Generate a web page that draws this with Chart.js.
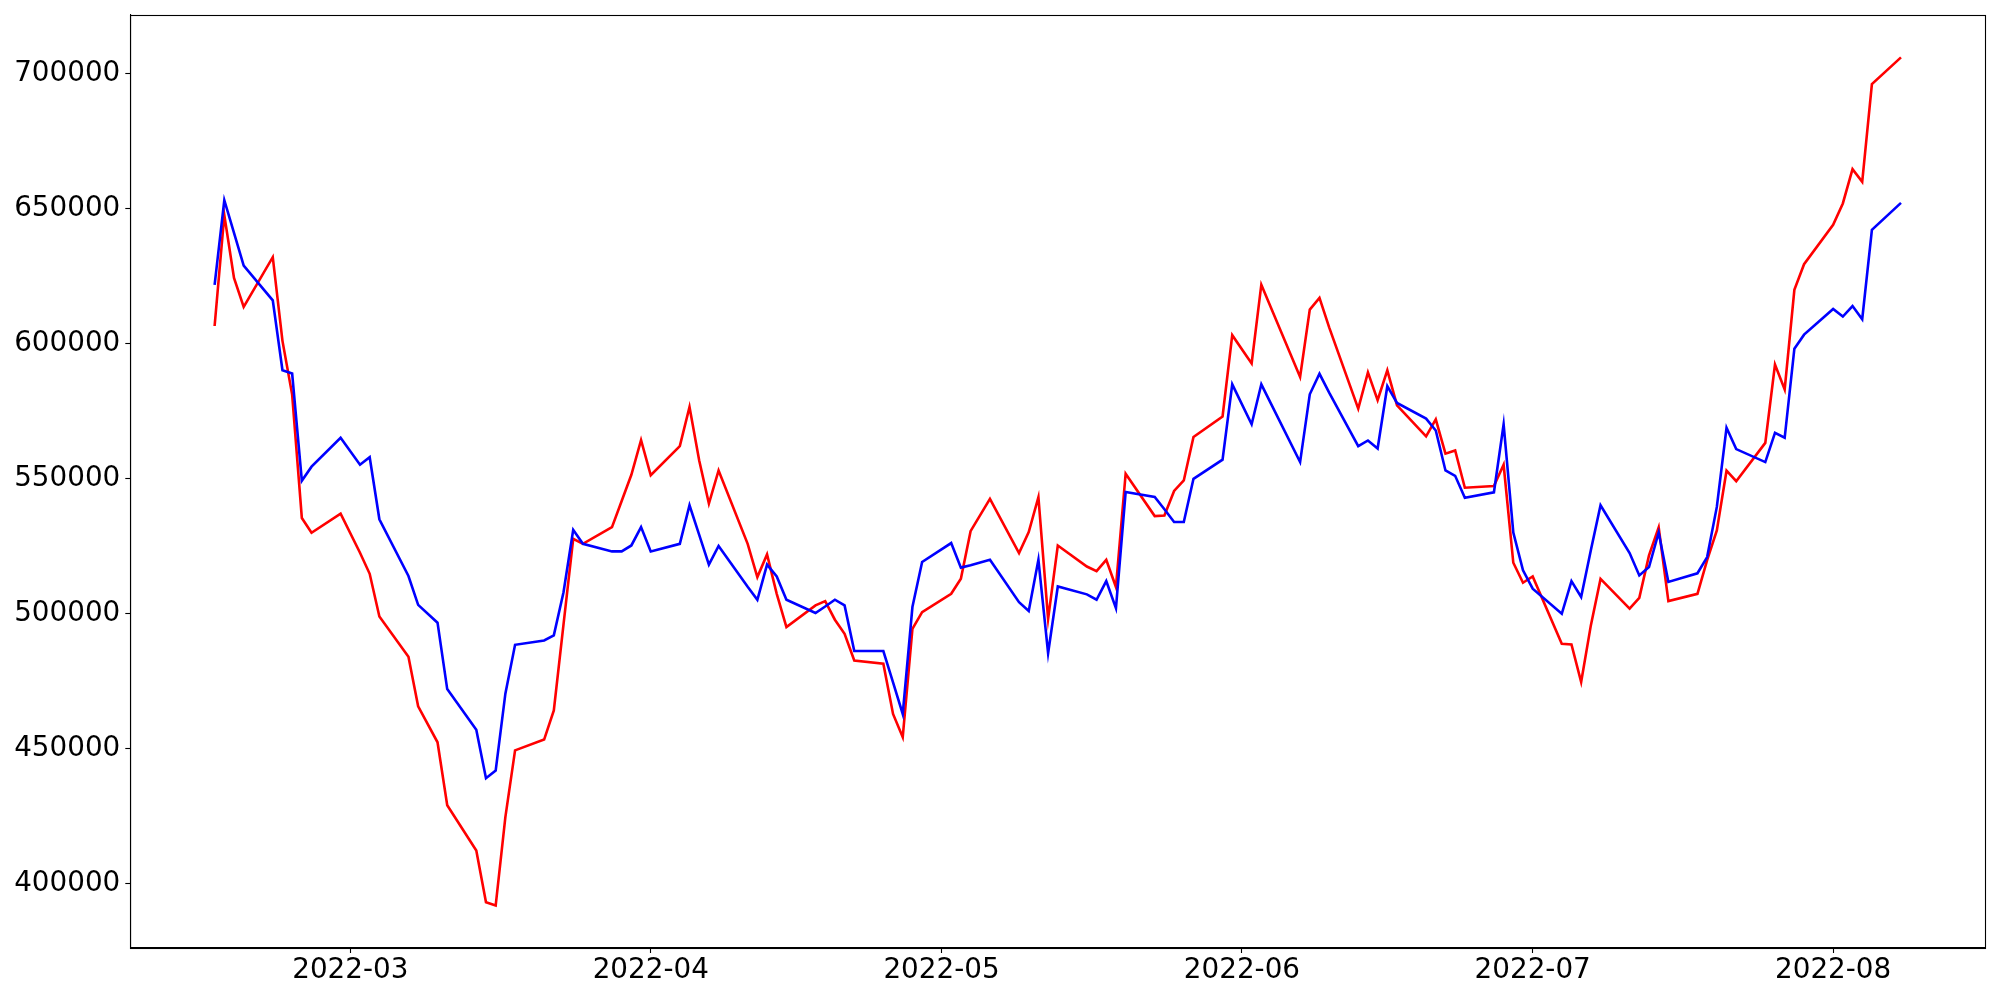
<!DOCTYPE html>
<html>
<head>
<meta charset="utf-8">
<script src="https://cdn.jsdelivr.net/npm/chart.js@4.4.0/dist/chart.umd.min.js"></script>
<style>
html,body{margin:0;padding:0;background:#fff;}
#wrap{width:2000px;height:1000px;}
</style>
</head>
<body>
<div id="wrap"><canvas id="c" width="2000" height="1000"></canvas></div>
<script>
const dates = [
"2022-02-15","2022-02-16","2022-02-17","2022-02-18","2022-02-21","2022-02-22","2022-02-23","2022-02-24","2022-02-25","2022-02-28",
"2022-03-02","2022-03-03","2022-03-04","2022-03-07","2022-03-08","2022-03-10","2022-03-11","2022-03-14","2022-03-15","2022-03-16","2022-03-17","2022-03-18","2022-03-21","2022-03-22","2022-03-23","2022-03-24","2022-03-25","2022-03-28","2022-03-29","2022-03-30","2022-03-31",
"2022-04-01","2022-04-04","2022-04-05","2022-04-06","2022-04-07","2022-04-08","2022-04-11","2022-04-12","2022-04-13","2022-04-14","2022-04-15","2022-04-18","2022-04-19","2022-04-20","2022-04-21","2022-04-22","2022-04-25","2022-04-26","2022-04-27","2022-04-28","2022-04-29",
"2022-05-02","2022-05-03","2022-05-04","2022-05-06","2022-05-09","2022-05-10","2022-05-11","2022-05-12","2022-05-13","2022-05-16","2022-05-17","2022-05-18","2022-05-19","2022-05-20","2022-05-23","2022-05-24","2022-05-25","2022-05-26","2022-05-27","2022-05-30","2022-05-31",
"2022-06-02","2022-06-03","2022-06-07","2022-06-08","2022-06-09","2022-06-10","2022-06-13","2022-06-14","2022-06-15","2022-06-16","2022-06-17","2022-06-20","2022-06-21","2022-06-22","2022-06-23","2022-06-24","2022-06-27","2022-06-28","2022-06-29","2022-06-30",
"2022-07-01","2022-07-04","2022-07-05","2022-07-06","2022-07-07","2022-07-08","2022-07-11","2022-07-12","2022-07-13","2022-07-14","2022-07-15","2022-07-18","2022-07-19","2022-07-20","2022-07-21","2022-07-22","2022-07-25","2022-07-26","2022-07-27","2022-07-28","2022-07-29",
"2022-08-01","2022-08-02","2022-08-03","2022-08-04","2022-08-05","2022-08-08"
];

const redValues = [
606500,647600,624300,613600,632000,601000,581100,535400,529900,537000,
522500,514700,498900,484000,465600,452300,429000,412200,393000,391800,424600,449300,453300,464100,496000,527700,525800,532000,541700,551400,564200,
551200,562000,576500,556700,540700,553000,525800,513500,521900,507300,495000,503000,504600,497700,492500,482600,481400,462800,454200,494300,500500,
507300,512900,530500,542500,522400,530200,543100,498000,525200,517400,515700,519900,509800,551800,536100,536300,545400,549300,565400,573000,603100,
592600,621800,587600,612600,616900,606000,575900,589300,579000,590100,577100,565600,571900,559200,560400,546600,547200,555100,518800,511400,
513700,488800,488500,474600,495600,512800,501800,505800,521500,531900,504600,507300,519800,530800,552900,549000,563200,592200,583000,619900,629400,
644000,651900,664600,659900,696100,706000
];

const blueValues = [
621700,653100,641000,628900,616000,590100,588900,549200,554400,565100,
555100,557900,534900,513900,503200,496600,472000,456900,439000,441800,470300,488400,490000,491900,507900,531000,525800,523000,523000,525200,532000,
523000,525800,540100,529100,518100,525000,509900,505100,518100,513700,505100,500200,502600,505100,503000,486100,486100,474500,462800,502400,519100,
526100,517000,517900,519900,504200,500900,519900,485300,510000,507100,505100,512000,502000,545000,543200,538600,533900,533900,549900,557000,584900,
570100,584900,556100,581200,588800,581800,562000,564100,561100,584200,578000,572200,567800,553000,551000,542900,544900,570100,530000,516000,
509200,499900,512000,506100,523400,540100,522400,514100,517200,530000,511700,514900,520900,539500,568800,560900,556100,566900,565100,598100,603300,
612800,610000,613900,609000,642100,652100
];

const xTickDates = ["2022-03-01","2022-04-01","2022-05-01","2022-06-01","2022-07-01","2022-08-01"];
const xTickLabels = ["2022-03","2022-04","2022-05","2022-06","2022-07","2022-08"];
const yTicks = [400000,450000,500000,550000,600000,650000,700000];

function dayNum(s){
  const p = s.split("-").map(Number);
  return Date.UTC(p[0], p[1]-1, p[2]) / 86400000;
}

const xs = dates.map(dayNum);
const xTickVals = xTickDates.map(dayNum);
const redData = xs.map((x,i)=>({x:x, y:redValues[i]}));
const blueData = xs.map((x,i)=>({x:x, y:blueValues[i]}));

const xFirst = xs[0], xLast = xs[xs.length-1];
const xMargin = 0.05*(xLast-xFirst);
const allY = redValues.concat(blueValues);
const yMin = Math.min(...allY), yMax = Math.max(...allY);
const yMargin = 0.05*(yMax-yMin);

const FONT = {family: "'DejaVu Sans', sans-serif", size: 27.8, lineHeight: 1};

const boxPlugin = {
  id: 'box',
  afterDraw(chart){
    const a = chart.chartArea, ctx = chart.ctx;
    ctx.save();
    ctx.strokeStyle = '#000';
    ctx.lineWidth = 1.1;
    ctx.strokeRect(Math.round(a.left)+0.5, Math.round(a.top)+0.5, Math.round(a.right-a.left), Math.round(a.bottom-a.top));
    ctx.restore();
  }
};

new Chart(document.getElementById('c'), {
  type: 'line',
  data: {
    datasets: [
      {label:'blue', data: blueData, borderColor:'#0000ff', backgroundColor:'#0000ff', borderWidth:2.6, pointRadius:0, tension:0, fill:false},
      {label:'red', data: redData, borderColor:'#ff0000', backgroundColor:'#ff0000', borderWidth:2.6, pointRadius:0, tension:0, fill:false}
    ]
  },
  options: {
    responsive: false,
    animation: false,
    events: [],
    layout: {padding: {top: 15, right: 14.7, left: 0, bottom: 0}},
    plugins: {legend: {display:false}, tooltip: {enabled:false}},
    scales: {
      x: {
        type: 'linear',
        min: xFirst - xMargin,
        max: xLast + xMargin,
        afterBuildTicks(scale){ scale.ticks = xTickVals.map(v=>({value:v})); },
        afterFit(scale){ scale.height = 52; scale.paddingLeft = 0; scale.paddingRight = 0; },
        grid: {drawOnChartArea:false, drawTicks:true, tickLength:5, tickWidth:1.1, tickColor:'#000'},
        border: {display:true, color:'#000', width:1.1},
        ticks: {
          autoSkip:false, maxRotation:0, minRotation:0, padding:4, color:'#000', font: FONT,
          callback(value){ const i = xTickVals.indexOf(value); return i>=0 ? xTickLabels[i] : ''; }
        }
      },
      y: {
        type: 'linear',
        min: yMin - yMargin,
        max: yMax + yMargin,
        afterBuildTicks(scale){ scale.ticks = yTicks.map(v=>({value:v})); },
        afterFit(scale){ scale.width = 130.3; scale.paddingTop = 0; scale.paddingBottom = 0; },
        grid: {drawOnChartArea:false, drawTicks:true, tickLength:5, tickWidth:1.1, tickColor:'#000'},
        border: {display:true, color:'#000', width:1.1},
        ticks: {
          padding:5, color:'#000', font: FONT,
          callback(value){ return String(value); }
        }
      }
    }
  },
  plugins: [boxPlugin]
});
</script>
</body>
</html>
